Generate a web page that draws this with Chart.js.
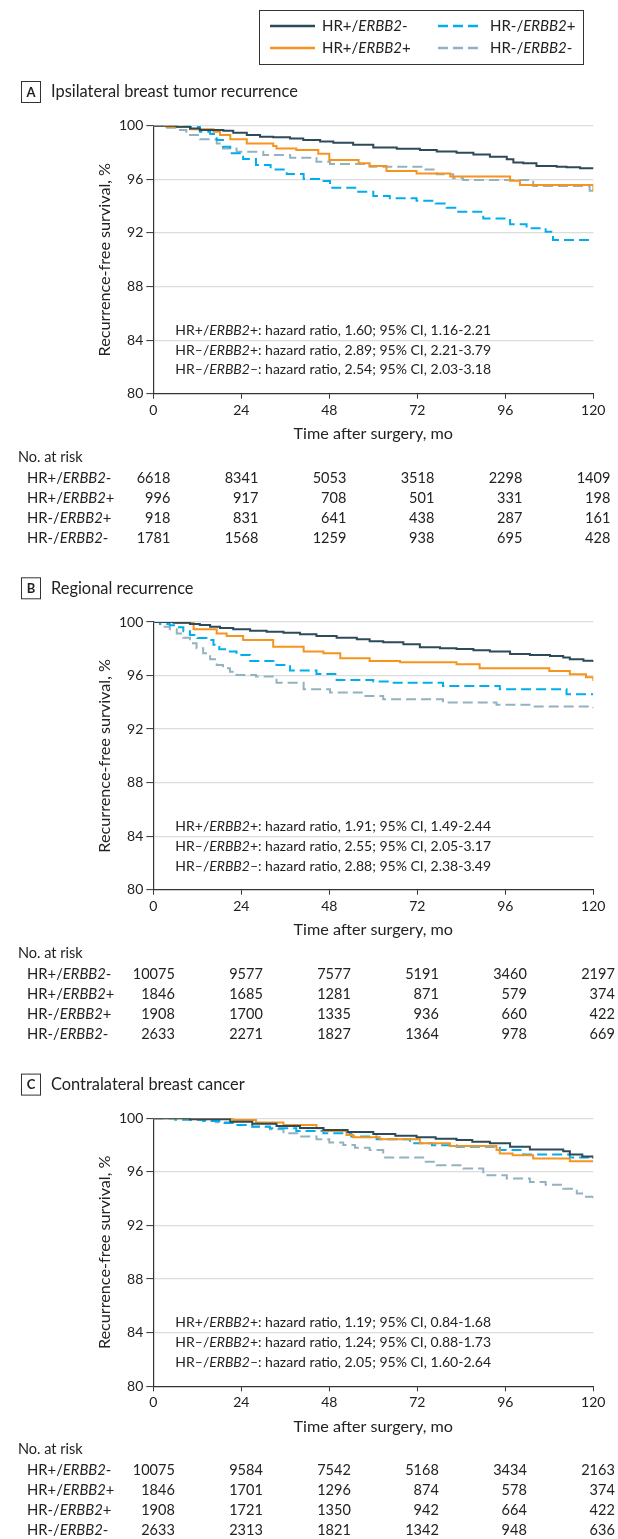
<!DOCTYPE html>
<html><head><meta charset="utf-8">
<script src="https://cdn.jsdelivr.net/npm/chart.js@4.4.1/dist/chart.umd.min.js"></script>
<style>
html,body{margin:0;padding:0;background:#fff;}
body{width:618px;height:1539px;position:relative;overflow:hidden;}
.panel{position:absolute;left:0;width:618px;}
canvas{display:block;}
</style></head><body>
<div class="panel" style="top:0;height:566px"><canvas id="cA"></canvas></div>
<div class="panel" style="top:566px;height:496px"><canvas id="cB"></canvas></div>
<div class="panel" style="top:1062px;height:477px"><canvas id="cC"></canvas></div>
<script>
// ---------- categories / labels ----------
const seriesNames = ['HR+/ERBB2-', 'HR+/ERBB2+', 'HR-/ERBB2+', 'HR-/ERBB2-'];
const xTicks = [0, 24, 48, 72, 96, 120];
const yTicks = [80, 84, 88, 92, 96, 100];
const panelLetters = ['A', 'B', 'C'];
const panelTitles = ['Ipsilateral breast tumor recurrence', 'Regional recurrence', 'Contralateral breast cancer'];
const xTitle = 'Time after surgery, mo';
const yTitle = 'Recurrence-free survival, %';

// ---------- Panel A series (time in months, survival %) ----------
const aPosNegT = [0, 6.4, 10, 12.7, 19.1, 21.8, 25.5, 29.1, 32.7, 37.3, 40.9, 45.5, 49.1, 54.5, 60, 66.4, 72.7, 77.3, 82.7, 87.3, 91.8, 96.4, 98.2, 100.9, 104.5, 110, 112.7, 116.4, 120];
const aPosNegS = [100, 99.93, 99.8, 99.68, 99.63, 99.48, 99.3, 99.18, 99.13, 99.05, 98.93, 98.83, 98.73, 98.58, 98.38, 98.28, 98.18, 98.08, 97.98, 97.86, 97.69, 97.49, 97.26, 97.19, 96.99, 96.94, 96.9, 96.82, 96.77];
const aPosPosT = [0, 3.6, 10, 16.4, 18.2, 21, 25.5, 32.7, 33.6, 39, 45, 48, 56, 59, 63.6, 71.8, 81, 97.3, 100, 120];
const aPosPosS = [100, 99.9, 99.73, 99.55, 99.3, 98.98, 98.68, 98.48, 98.3, 98.18, 97.9, 97.44, 97.19, 96.99, 96.62, 96.44, 96.2, 95.9, 95.57, 95.12];
const aNegPosT = [0, 10, 12.7, 15.5, 17.3, 19, 21, 24.5, 28, 32, 36.4, 41, 46.4, 48.2, 55.5, 60, 64.5, 71.8, 77, 80, 82.7, 90, 97.3, 101.8, 107, 109, 120];
const aNegPosS = [100, 99.9, 99.55, 99.38, 98.93, 98.43, 97.94, 97.51, 97.06, 96.74, 96.39, 96.02, 95.87, 95.37, 95.07, 94.75, 94.58, 94.4, 94.2, 93.88, 93.58, 93.08, 92.64, 92.34, 92.09, 91.47, 91.47];
const aNegNegT = [0, 2.7, 6.4, 9, 12.7, 17.3, 19, 22.7, 30, 37.3, 44.5, 48.2, 59, 73.6, 77.3, 81.8, 84.5, 103.6, 119, 120];
const aNegNegS = [100, 99.85, 99.68, 99.3, 98.98, 98.68, 98.3, 98.06, 97.81, 97.61, 97.31, 97.14, 96.94, 96.74, 96.37, 96.07, 95.95, 95.5, 95.15, 95.15];

// ---------- Panel B series ----------
const bPosNegT = [0, 5.5, 10, 12.7, 15.5, 18.2, 21.8, 26.4, 30.9, 35.5, 40, 44.5, 50, 55.5, 59, 62.7, 68.2, 72.7, 78.2, 82.7, 87.3, 91.8, 97.3, 102.7, 108.2, 111.8, 113.6, 117.3, 120];
const bPosNegS = [100, 99.95, 99.85, 99.78, 99.65, 99.55, 99.45, 99.35, 99.28, 99.2, 99.08, 98.96, 98.83, 98.71, 98.56, 98.48, 98.33, 98.11, 98.03, 97.99, 97.89, 97.79, 97.61, 97.54, 97.46, 97.34, 97.21, 97.11, 97.01];
const bPosPosT = [0, 6.4, 11, 17.3, 20, 24.5, 32.7, 41, 46.4, 51, 59, 67.3, 82.7, 89, 108, 113.6, 118, 120];
const bPosPosS = [100, 99.95, 99.45, 99.15, 98.95, 98.66, 98.16, 97.79, 97.66, 97.29, 97.09, 96.99, 96.84, 96.54, 96.34, 96.09, 95.87, 95.6];
const bNegPosT = [0, 1.8, 4.5, 6.4, 8.2, 10, 12, 14.5, 16.4, 18, 20, 22.7, 26.4, 33.6, 37.3, 44.5, 50, 60, 64.5, 79, 94.5, 112.7, 120];
const bNegPosS = [100, 99.85, 99.75, 99.6, 99.3, 99.03, 98.8, 98.66, 98.3, 97.96, 97.8, 97.54, 97.09, 96.79, 96.37, 96.12, 95.67, 95.55, 95.47, 95.22, 94.98, 94.6, 94.6];
const bNegNegT = [0, 2.7, 4.5, 6.4, 8.2, 10, 11.8, 13.6, 15.5, 17.3, 19, 20.9, 22.7, 28, 33.6, 41, 48.2, 57.3, 62.7, 79, 93.6, 103.6, 120];
const bNegNegS = [100, 99.65, 99.45, 99.15, 98.83, 98.41, 98.03, 97.66, 97.21, 96.79, 96.54, 96.29, 96.04, 95.92, 95.47, 94.98, 94.73, 94.48, 94.23, 93.98, 93.81, 93.68, 93.56];

// ---------- Panel C series ----------
const cPosNegT = [0, 10, 21, 27, 33.6, 40, 46.4, 53, 60, 66, 71.8, 77, 82.7, 87, 91.8, 97.3, 102.7, 111.8, 113.6, 117, 120];
const cPosNegS = [100, 99.93, 99.75, 99.6, 99.43, 99.28, 99.13, 98.98, 98.83, 98.7, 98.58, 98.48, 98.38, 98.25, 98.13, 97.88, 97.68, 97.55, 97.3, 97.15, 97.0];
const cPosPosT = [0, 21.8, 28, 35.5, 44.5, 46.4, 52.7, 54.5, 61.8, 72.7, 80.9, 93.6, 94.5, 98, 103.6, 113.6, 120];
const cPosPosS = [100, 99.88, 99.68, 99.5, 99.25, 99.05, 98.75, 98.58, 98.43, 98.13, 97.93, 97.63, 97.38, 97.25, 97.0, 96.8, 96.8];
const cNegPosT = [0, 6, 13.6, 18, 22.7, 27, 31.8, 39, 46.4, 54, 60.9, 70, 76, 82.7, 94.5, 100.9, 113.6, 120];
const cNegPosS = [100, 99.9, 99.8, 99.65, 99.5, 99.38, 99.25, 99.05, 98.88, 98.65, 98.43, 98.13, 97.98, 97.88, 97.63, 97.3, 97.08, 97.0];
const cNegNegT = [0, 10, 17, 22.7, 27, 31.8, 35.5, 40, 44.5, 48, 51.8, 55, 59, 62.7, 73.6, 77.3, 84.5, 90, 96.4, 102.7, 107, 111.8, 115.5, 118, 120];
const cNegNegS = [100, 99.88, 99.7, 99.5, 99.35, 99.18, 98.88, 98.65, 98.43, 98.2, 98.0, 97.8, 97.63, 97.08, 96.75, 96.5, 96.25, 95.75, 95.5, 95.25, 95.05, 94.75, 94.38, 94.15, 93.88];

// ---------- hazard ratio texts ----------
const aHazard = ['HR+/ERBB2+: hazard ratio, 1.60; 95% CI, 1.16-2.21', 'HR–/ERBB2+: hazard ratio, 2.89; 95% CI, 2.21-3.79', 'HR–/ERBB2–: hazard ratio, 2.54; 95% CI, 2.03-3.18'];
const bHazard = ['HR+/ERBB2+: hazard ratio, 1.91; 95% CI, 1.49-2.44', 'HR–/ERBB2+: hazard ratio, 2.55; 95% CI, 2.05-3.17', 'HR–/ERBB2–: hazard ratio, 2.88; 95% CI, 2.38-3.49'];
const cHazard = ['HR+/ERBB2+: hazard ratio, 1.19; 95% CI, 0.84-1.68', 'HR–/ERBB2+: hazard ratio, 1.24; 95% CI, 0.88-1.73', 'HR–/ERBB2–: hazard ratio, 2.05; 95% CI, 1.60-2.64'];

// ---------- numbers at risk ----------
const aRisk = [[6618, 8341, 5053, 3518, 2298, 1409], [996, 917, 708, 501, 331, 198], [918, 831, 641, 438, 287, 161], [1781, 1568, 1259, 938, 695, 428]];
const bRisk = [[10075, 9577, 7577, 5191, 3460, 2197], [1846, 1685, 1281, 871, 579, 374], [1908, 1700, 1335, 936, 660, 422], [2633, 2271, 1827, 1364, 978, 669]];
const cRisk = [[10075, 9584, 7542, 5168, 3434, 2163], [1846, 1701, 1296, 874, 578, 374], [1908, 1721, 1350, 942, 664, 422], [2633, 2313, 1821, 1342, 948, 636]];

// ---------- styles ----------
const FONT = 'Lato';
const TXT = '#222222';
const colors = ['#2d4a59', '#f7941d', '#00aeef', '#93b2c1'];
const dashes = [[], [], [10, 5], [10, 5]];

Chart.defaults.font.family = FONT;
Chart.defaults.color = TXT;

function drawRich(ctx, text, x, y, size, align) {
  const parts = text.split(/(ERBB2)/).filter(p => p.length);
  const fonts = parts.map(p => (p === 'ERBB2' ? 'italic ' : '') + size + 'px ' + FONT);
  const widths = parts.map((p, i) => { ctx.font = fonts[i]; return ctx.measureText(p).width; });
  const total = widths.reduce((a, b) => a + b, 0);
  let cx = align === 'right' ? x - total : (align === 'center' ? x - total / 2 : x);
  ctx.textAlign = 'left';
  parts.forEach((p, i) => { ctx.font = fonts[i]; ctx.fillText(p, cx, y); cx += widths[i]; });
}

const panelPlugin = {
  id: 'panelExtras',
  afterDraw(chart, args, opts) {
    const ctx = chart.ctx;
    const ca = chart.chartArea;
    const xs = chart.scales.x, ys = chart.scales.y;
    ctx.save();
    ctx.fillStyle = TXT;
    ctx.textBaseline = 'middle';
    // panel title
    const ty = ca.top - 33.7;
    ctx.strokeStyle = '#333';
    ctx.lineWidth = 1;
    ctx.strokeRect(21.5, ty - 10.5, 19, 21);
    ctx.font = 'bold 13px ' + FONT;
    ctx.textAlign = 'center';
    ctx.fillText(opts.letter, 31, ty + 0.5);
    ctx.textAlign = 'left';
    ctx.font = '16.4px ' + FONT;
    ctx.fillText(opts.title, 51, ty);
    // hazard texts
    const hzY = [84.75, 83.26, 81.77];
    opts.hazard.forEach((t, i) => {
      drawRich(ctx, t, xs.getPixelForValue(6), ys.getPixelForValue(hzY[i]), 14, 'left');
    });
    // number at risk
    const base = ca.bottom;
    ctx.font = '14.5px ' + FONT;
    ctx.textAlign = 'left';
    ctx.fillText('No. at risk', 18, base + 63.3);
    opts.risk.forEach((row, r) => {
      const y = base + 84.3 + r * 20;
      drawRich(ctx, seriesNames[r], 27, y, 14.8, 'left');
      ctx.font = '14.5px ' + FONT;
      ctx.textAlign = 'right';
      row.forEach((v, k) => {
        ctx.fillText(String(v), xs.getPixelForValue(xTicks[k]) + opts.riskShift, y);
      });
    });
    // legend
    if (opts.legend) {
      ctx.strokeStyle = '#333';
      ctx.lineWidth = 1;
      ctx.strokeRect(259.5, 10.5, 324, 54);
      const pos = [[270, 26], [270, 48], [438, 26], [438, 48]];
      chart.data.datasets.forEach((ds, i) => {
        const [lx, ly] = pos[i];
        ctx.beginPath();
        ctx.setLineDash(ds.borderDash || []);
        ctx.strokeStyle = ds.borderColor;
        ctx.lineWidth = 2.5;
        ctx.moveTo(lx, ly); ctx.lineTo(lx + 45, ly);
        ctx.stroke();
        ctx.setLineDash([]);
        ctx.fillStyle = TXT;
        drawRich(ctx, ds.label, lx + 52, ly, 15, 'left');
      });
    }
    ctx.restore();
  }
};

function makeChart(id, series, extras, padTop, padBottom) {
  const datasets = series.map((s, i) => ({
    label: seriesNames[i],
    data: s[0].map((t, k) => ({ x: t, y: s[1][k] })),
    borderColor: colors[i],
    borderWidth: 2,
    borderDash: dashes[i],
    stepped: 'before',
    pointRadius: 0,
    fill: false,
    order: i
  }));
  return new Chart(document.getElementById(id), {
    type: 'line',
    data: { datasets },
    plugins: [panelPlugin],
    options: {
      responsive: true,
      maintainAspectRatio: false,
      animation: false,
      events: [],
      layout: { padding: { left: 95, right: 24.7, top: padTop, bottom: padBottom } },
      plugins: {
        legend: { display: false },
        tooltip: { enabled: false },
        panelExtras: extras
      },
      scales: {
        x: {
          type: 'linear', min: 0, max: 120,
          afterBuildTicks: sc => { sc.ticks = xTicks.map(v => ({ value: v })); },
          afterFit: sc => { sc.height = 49.7; },
          ticks: { font: { size: 14 }, color: TXT, padding: 3, maxRotation: 0 },
          grid: { drawOnChartArea: false, drawTicks: true, tickLength: 5, tickColor: '#333', tickWidth: 1 },
          border: { display: true, color: '#333', width: 1.2 },
          title: { display: true, text: xTitle, font: { size: 16.2 }, color: TXT, padding: { top: 0, bottom: 0 } }
        },
        y: {
          type: 'linear', min: 80, max: 100,
          afterBuildTicks: sc => { sc.ticks = yTicks.map(v => ({ value: v })); },
          afterFit: sc => { sc.width = 58.3; },
          ticks: { font: { size: 14 }, color: TXT, padding: 3 },
          grid: {
            color: c => (c.tick && c.tick.value === 80 ? 'rgba(0,0,0,0)' : '#dcdcdc'),
            lineWidth: 1.2, drawTicks: true, tickLength: 7, tickColor: '#333', tickWidth: 1
          },
          border: { display: true, color: '#333', width: 1.2 },
          title: { display: true, text: yTitle, font: { size: 16.2 }, color: TXT, padding: { top: 0, bottom: 0 } }
        }
      }
    }
  });
}

makeChart('cA',
  [[aPosNegT, aPosNegS], [aPosPosT, aPosPosS], [aNegPosT, aNegPosS], [aNegNegT, aNegNegS]],
  { letter: panelLetters[0], title: panelTitles[0], hazard: aHazard, risk: aRisk, legend: true, riskShift: 17 },
  125.7, 122.6);
makeChart('cB',
  [[bPosNegT, bPosNegS], [bPosPosT, bPosPosS], [bNegPosT, bNegPosS], [bNegNegT, bNegNegS]],
  { letter: panelLetters[1], title: panelTitles[1], hazard: bHazard, risk: bRisk, legend: false, riskShift: 21.5 },
  56, 122.6);
makeChart('cC',
  [[cPosNegT, cPosNegS], [cPosPosT, cPosPosS], [cNegPosT, cNegPosS], [cNegNegT, cNegNegS]],
  { letter: panelLetters[2], title: panelTitles[2], hazard: cHazard, risk: cRisk, legend: false, riskShift: 21.5 },
  56.3, 103);
</script></body></html>
